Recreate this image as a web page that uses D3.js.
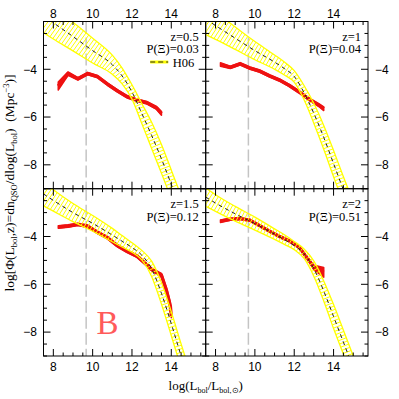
<!DOCTYPE html>
<html><head><meta charset="utf-8">
<script src="https://cdn.jsdelivr.net/npm/d3@7"></script>
<style>body{margin:0;background:#fff}svg{display:block}</style>
</head><body>
<svg id="chart" width="399" height="399"></svg>
<script>
// ---------- data ----------
const xDomain = [7.5, 15.75];
const yDomain = [-9, -2];
const xTickLabels = [8, 10, 12, 14];
const yTickLabels = [-4, -6, -8];
const xMajorStep = 2, xMinorStep = 0.5;
const yMajorStep = 2, yMinorStep = 0.5;
const redshiftLabels = ["z=0.5", "z=1", "z=1.5", "z=2"];
const probLabels = ["P(Ξ)=0.03", "P(Ξ)=0.04", "P(Ξ)=0.12", "P(Ξ)=0.51"];
const limitLogL = 9.67;
const legendLabel = "H06";
const panelLetter = "B";

// H06 band (centre and vertical half width, dex)
const bandX = [7.5, 8, 9, 10, 11, 11.5, 12, 12.5, 13, 13.5, 14, 14.5, 15];
const bandMidZ05 = [-1.75, -2.05, -2.63, -3.22, -3.81, -4.28, -4.95, -5.85, -6.77, -7.75, -8.82, -9.9, -11.0];
const bandMidZ1  = [-1.9, -2.17, -2.7, -3.22, -3.7, -3.97, -4.3, -4.98, -5.85, -6.85, -7.95, -9.05, -10.1];
const bandMidZ15 = [-2.22, -2.49, -3.0, -3.45, -3.94, -4.2, -4.46, -4.78, -5.35, -6.38, -7.65, -9.0, -10.3];
const bandMidZ2  = [-2.35, -2.6, -3.05, -3.46, -3.9, -4.13, -4.38, -4.72, -5.35, -6.28, -7.35, -8.42, -9.5];
const bandHalfZ05 = [0.72, 0.68, 0.6, 0.52, 0.4, 0.33, 0.3, 0.42, 0.55, 0.6, 0.6, 0.6, 0.6];
const bandHalfZ1  = [0.65, 0.58, 0.47, 0.38, 0.3, 0.27, 0.24, 0.3, 0.42, 0.5, 0.55, 0.55, 0.55];
const bandHalfZ15 = [0.5, 0.45, 0.38, 0.33, 0.28, 0.24, 0.2, 0.2, 0.32, 0.45, 0.5, 0.5, 0.5];
const bandHalfZ2  = [0.38, 0.35, 0.31, 0.27, 0.22, 0.2, 0.17, 0.2, 0.32, 0.42, 0.5, 0.5, 0.5];

// model (red) luminosity functions
const modelXZ05 = [8.25, 8.75, 9.25, 9.75, 10.25, 10.75, 11.25, 11.75, 12.25, 12.75, 13.25, 13.5];
const modelYZ05 = [-4.7, -4.18, -4.4, -4.18, -4.31, -4.62, -4.9, -5.15, -5.29, -5.4, -5.62, -5.85];
const modelEZ05 = [0.17, 0.07, 0.05, 0.05, 0.05, 0.05, 0.05, 0.05, 0.05, 0.05, 0.06, 0.08];
const modelXZ1 = [8.25, 8.75, 9.25, 9.75, 10.25, 10.75, 11.25, 11.75, 12.25, 12.75, 13.25, 13.5];
const modelYZ1 = [-3.8, -3.92, -3.77, -3.95, -4.08, -4.28, -4.45, -4.68, -4.95, -5.25, -5.5, -5.65];
const modelEZ1 = [0.07, 0.05, 0.05, 0.05, 0.05, 0.05, 0.05, 0.05, 0.05, 0.05, 0.06, 0.08];
const modelXZ15 = [8.25, 8.75, 9.25, 9.75, 10.25, 10.75, 11.25, 11.75, 12.25, 12.75, 13.0, 13.5, 13.75, 13.95, 14.0];
const modelYZ15 = [-3.6, -3.56, -3.49, -3.57, -3.83, -4.05, -4.38, -4.62, -4.82, -5.18, -5.38, -5.62, -6.25, -6.9, -7.35];
const modelEZ15 = [0.05, 0.05, 0.05, 0.05, 0.05, 0.05, 0.05, 0.05, 0.05, 0.05, 0.05, 0.08, 0.12, 0.15, 0.05];
const modelXZ2 = [8.25, 8.75, 9.25, 9.75, 10.25, 10.75, 11.25, 11.75, 12.25, 12.75, 13.0, 13.5];
const modelYZ2 = [-3.36, -3.28, -3.25, -3.32, -3.55, -3.78, -4.0, -4.18, -4.45, -5.0, -5.3, -5.5];
const modelEZ2 = [0.05, 0.04, 0.04, 0.04, 0.04, 0.04, 0.04, 0.04, 0.04, 0.06, 0.1, 0.2];

// ---------- layout ----------
const L = 43.5, M = 205.7, R = 368, T = 21.5, MY = 188.7, B = 356;
const svg = d3.select("#chart");
const defs = svg.append("defs");

const panels = [
  {col:0,row:0, mid:bandMidZ05, half:bandHalfZ05, mx:modelXZ05, my:modelYZ05, me:modelEZ05},
  {col:1,row:0, mid:bandMidZ1,  half:bandHalfZ1,  mx:modelXZ1,  my:modelYZ1,  me:modelEZ1},
  {col:0,row:1, mid:bandMidZ15, half:bandHalfZ15, mx:modelXZ15, my:modelYZ15, me:modelEZ15},
  {col:1,row:1, mid:bandMidZ2,  half:bandHalfZ2,  mx:modelXZ2,  my:modelYZ2,  me:modelEZ2}
];

const YELLOW = "#ffff00";
const RED = "#ee1111";
const sf = "'Liberation Serif', 'Times New Roman', serif";
const tf = "'Liberation Sans', Arial, sans-serif";

panels.forEach((p, i) => {
  const x0 = p.col === 0 ? L : M, x1 = p.col === 0 ? M : R;
  const y0 = p.row === 0 ? T : MY, y1 = p.row === 0 ? MY : B;
  const x = d3.scaleLinear().domain(xDomain).range([x0, x1]);
  const y = d3.scaleLinear().domain(yDomain).range([y1, y0]);
  const g = svg.append("g");
  const clipId = "clip" + i;
  defs.append("clipPath").attr("id", clipId).append("rect")
    .attr("x", x0).attr("y", y0).attr("width", x1 - x0).attr("height", y1 - y0);
  const inner = g.append("g").attr("clip-path", `url(#${clipId})`);

  // limit line
  inner.append("line")
    .attr("x1", x(limitLogL)).attr("x2", x(limitLogL)).attr("y1", y0).attr("y2", y1)
    .attr("stroke", "#c4c4c4").attr("stroke-width", 1.5).attr("stroke-dasharray", "12,4");

  // model (red)
  const md = p.mx.map((v, k) => ({x: v, y: p.my[k], e: p.me[k]}));
  inner.append("path").datum(md)
    .attr("d", d3.area().x(d => x(d.x)).y0(d => y(d.y - d.e)).y1(d => y(d.y + d.e)))
    .attr("fill", RED).attr("stroke", RED).attr("stroke-width", 1.5).attr("stroke-linejoin", "round");
  inner.append("path").datum(md)
    .attr("d", d3.line().x(d => x(d.x)).y(d => y(d.y)))
    .attr("fill", "none").attr("stroke", RED).attr("stroke-width", 3.4)
    .attr("stroke-linejoin", "round");

  // H06 band
  const bd = bandX.map((v, k) => ({x: v, m: p.mid[k], h: p.half[k]}));
  const curve = d3.curveMonotoneX;
  const areaGen = d3.area().curve(curve).x(d => x(d.x)).y0(d => y(d.m - d.h)).y1(d => y(d.m + d.h));
  const bandClip = "bclip" + i;
  defs.append("clipPath").attr("id", bandClip).append("path").datum(bd).attr("d", areaGen);
  const hatch = inner.append("g").attr("clip-path", `url(#${bandClip})`);
  // hatching perpendicular to the band centre line
  const midLine = d3.line().curve(curve).x(d => x(d.x)).y(d => y(d.m));
  const tmp = svg.append("path").datum(bd).attr("d", midLine).attr("fill", "none").attr("stroke", "none");
  const node = tmp.node();
  const len = node.getTotalLength();
  const halfAt = d3.scaleLinear().domain(bandX).range(p.half);
  const pxPerDex = (y1 - y0) / (yDomain[1] - yDomain[0]);
  for (let s = 0.5; s < len - 0.5; s += 3.4) {
    const a = node.getPointAtLength(Math.max(0, s - 0.6));
    const b = node.getPointAtLength(Math.min(len, s + 0.6));
    const c = node.getPointAtLength(s);
    let tx = b.x - a.x, ty = b.y - a.y;
    const n = Math.hypot(tx, ty) || 1; tx /= n; ty /= n;
    const hv = halfAt(x.invert(c.x)) * pxPerDex;
    const ext = hv * Math.abs(tx) + 4;
    const nx = -ty, ny = tx;
    hatch.append("line")
      .attr("x1", c.x - nx * ext).attr("y1", c.y - ny * ext)
      .attr("x2", c.x + nx * ext).attr("y2", c.y + ny * ext)
      .attr("stroke", YELLOW).attr("stroke-width", 1);
  }
  tmp.remove();
  // band edges
  inner.append("path").datum(bd)
    .attr("d", d3.line().curve(curve).x(d => x(d.x)).y(d => y(d.m + d.h)))
    .attr("fill", "none").attr("stroke", YELLOW).attr("stroke-width", 1.3);
  inner.append("path").datum(bd)
    .attr("d", d3.line().curve(curve).x(d => x(d.x)).y(d => y(d.m - d.h)))
    .attr("fill", "none").attr("stroke", YELLOW).attr("stroke-width", 1.3);
  // centre dashed
  inner.append("path").datum(bd).attr("d", midLine)
    .attr("fill", "none").attr("stroke", "#222").attr("stroke-width", 1)
    .attr("stroke-dasharray", "4,3.5");

  // ticks on all four sides
  const xMinor = d3.range(8, 15.76, xMinorStep);
  const yMinor = d3.range(-9, -1.99, yMinorStep);
  const tk = g.append("g").attr("stroke", "#000").attr("stroke-width", 1);
  xMinor.forEach(v => {
    const major = Math.abs(v / xMajorStep - Math.round(v / xMajorStep)) < 1e-6;
    const l = major ? 7 : 3.5;
    tk.append("line").attr("x1", x(v)).attr("x2", x(v)).attr("y1", y1).attr("y2", y1 - l);
    tk.append("line").attr("x1", x(v)).attr("x2", x(v)).attr("y1", y0).attr("y2", y0 + l);
  });
  yMinor.forEach(v => {
    const major = Math.abs(v / yMajorStep - Math.round(v / yMajorStep)) < 1e-6;
    const l = major ? 7 : 3.5;
    tk.append("line").attr("y1", y(v)).attr("y2", y(v)).attr("x1", x0).attr("x2", x0 + l);
    tk.append("line").attr("y1", y(v)).attr("y2", y(v)).attr("x1", x1).attr("x2", x1 - l);
  });
  g.append("rect").attr("x", x0).attr("y", y0).attr("width", x1 - x0).attr("height", y1 - y0)
    .attr("fill", "none").attr("stroke", "#000").attr("stroke-width", 1);

  // tick labels
  const ty0 = p.row === 0 ? 17.5 : 371;
  xTickLabels.forEach(v => g.append("text").attr("x", x(v)).attr("y", ty0)
    .attr("text-anchor", "middle").attr("font-family", tf).attr("font-size", 12).text(v));
  yTickLabels.forEach(v => {
    const t = g.append("text").attr("y", y(v) + 4.3).attr("font-family", tf).attr("font-size", 12)
      .text("\u2212" + Math.abs(v));
    if (p.col === 0) t.attr("x", 37).attr("text-anchor", "end");
    else t.attr("x", 375).attr("text-anchor", "start");
  });

  // panel annotations
  g.append("text").attr("x", x1 - 7).attr("y", y0 + 19).attr("text-anchor", "end")
    .attr("font-family", sf).attr("font-size", 12.5).text(redshiftLabels[i]);
  g.append("text").attr("x", x1 - 7).attr("y", y0 + 31.8).attr("text-anchor", "end")
    .attr("font-family", sf).attr("font-size", 12.5).text(probLabels[i]);

  if (i === 0) {
    const ly = y0 + 40.5;
    g.append("line").attr("x1", x1 - 55.5).attr("x2", x1 - 37.5).attr("y1", ly).attr("y2", ly)
      .attr("stroke", YELLOW).attr("stroke-width", 3);
    g.append("line").attr("x1", x1 - 55.5).attr("x2", x1 - 37.5).attr("y1", ly).attr("y2", ly)
      .attr("stroke", "#222").attr("stroke-width", 1).attr("stroke-dasharray", "5,3");
    g.append("text").attr("x", x1 - 33).attr("y", y0 + 45.5)
      .attr("font-family", sf).attr("font-size", 12.5).text(legendLabel);
  }
  if (i === 2) {
    g.append("text").attr("x", 96.5).attr("y", 333.5)
      .attr("font-family", sf).attr("font-size", 33).attr("fill", "#ff5a5a").text(panelLetter);
  }
});

// axis titles
const xt = svg.append("text").attr("x", (L + R) / 2).attr("y", 390).attr("text-anchor", "middle")
  .attr("font-family", sf).attr("font-size", 13);
xt.append("tspan").text("log(L");
xt.append("tspan").attr("font-size", 8).attr("dy", 2.5).text("bol");
xt.append("tspan").attr("dy", -2.5).text("/L");
xt.append("tspan").attr("font-size", 8).attr("dy", 2.5).text("bol,\u2299");
xt.append("tspan").attr("dy", -2.5).text(")");

const yt = svg.append("text").attr("transform", "translate(14,183) rotate(-90)")
  .attr("text-anchor", "middle").attr("font-family", sf).attr("font-size", 13.5);
yt.append("tspan").text("log[\u03A6(L");
yt.append("tspan").attr("font-size", 8.5).attr("dy", 2.5).text("bol");
yt.append("tspan").attr("dy", -2.5).text(",z)=dn");
yt.append("tspan").attr("font-size", 8.5).attr("dy", 2.5).text("QSO");
yt.append("tspan").attr("dy", -2.5).text("/dlog(L");
yt.append("tspan").attr("font-size", 8.5).attr("dy", 2.5).text("bol");
yt.append("tspan").attr("dy", -2.5).text(")\u00A0\u00A0(Mpc");
yt.append("tspan").attr("font-size", 8.5).attr("dy", -5).text("\u22123");
yt.append("tspan").attr("dy", 5).text(")]");
</script>
</body></html>
